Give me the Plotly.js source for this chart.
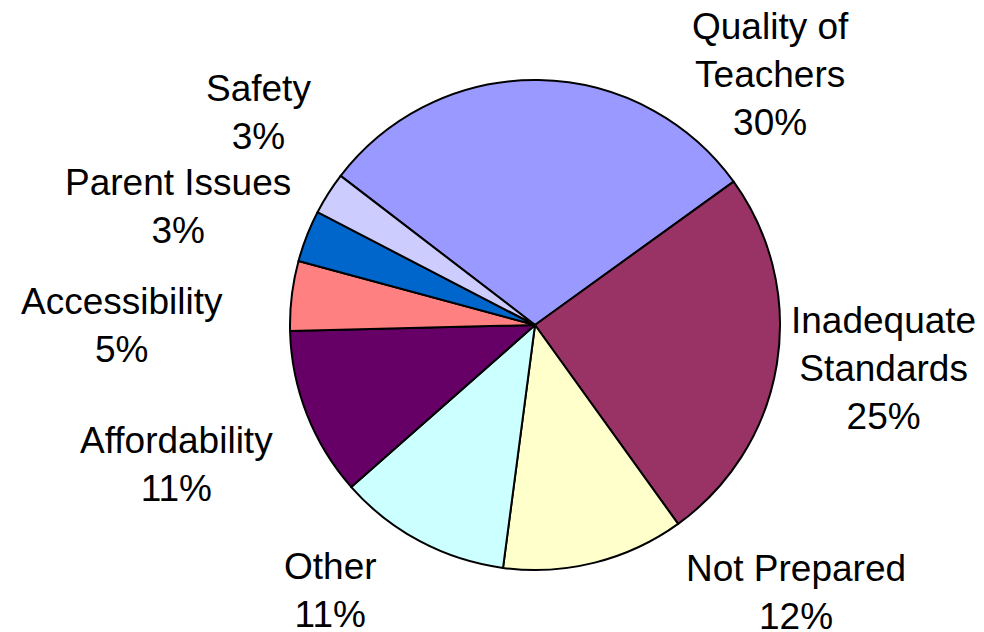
<!DOCTYPE html>
<html>
<head>
<meta charset="utf-8">
<script src="https://cdn.plot.ly/plotly-3.0.1.min.js"></script>
<style>
  html, body { margin: 0; padding: 0; background: #ffffff; }
  #chart { width: 984px; height: 632px; }
</style>
</head>
<body>
<div id="chart"></div>
<script>
// ---- data ----
var categories = ["Quality of Teachers", "Inadequate Standards", "Not Prepared", "Other",
                  "Affordability", "Accessibility", "Parent Issues", "Safety"];
var displayLabels = ["Quality of<br>Teachers", "Inadequate<br>Standards", "Not Prepared", "Other",
                     "Affordability", "Accessibility", "Parent Issues", "Safety"];
var shares = [29.6, 25.0, 12.0, 11.4, 11.1, 4.6, 3.4, 2.8];
var sliceColors = ["#9999FF", "#993366", "#FFFFCC", "#CCFFFF",
                   "#660066", "#FF8080", "#0066CC", "#CCCCFF"];

// label block centres (pixels in the 984x632 frame) - layout only
var labelPos = [[770, 75], [883, 368], [796, 592], [330, 590],
                [176, 464], [122, 325], [178, 207], [258, 112]];

var W = 984, H = 632;
var total = shares.reduce(function (a, b) { return a + b; }, 0);

var annotations = categories.map(function (c, i) {
  var pct = Math.round(shares[i] / total * 100) + "%";
  return {
    text: displayLabels[i] + "<br>" + pct,
    xref: "paper", yref: "paper",
    x: labelPos[i][0] / W, y: 1 - labelPos[i][1] / H,
    xanchor: "center", yanchor: "middle", align: "center",
    showarrow: false,
    font: { family: "Liberation Sans, Arial, sans-serif", size: 37, color: "#000000" }
  };
});

var cx = 535, cy = 325, r = 245;
var trace = {
  type: "pie",
  labels: categories,
  values: shares,
  sort: false,
  direction: "clockwise",
  rotation: -52.5,
  textinfo: "none",
  hoverinfo: "label+percent",
  marker: { colors: sliceColors, line: { color: "#000000", width: 2 } },
  domain: { x: [(cx - r) / W, (cx + r) / W], y: [(H - cy - r) / H, (H - cy + r) / H] },
  showlegend: false
};

var layout = {
  width: W, height: H,
  margin: { l: 0, r: 0, t: 0, b: 0 },
  paper_bgcolor: "#ffffff",
  plot_bgcolor: "#ffffff",
  showlegend: false,
  annotations: annotations
};

Plotly.newPlot("chart", [trace], layout, { displayModeBar: false, staticPlot: true });
</script>
</body>
</html>
